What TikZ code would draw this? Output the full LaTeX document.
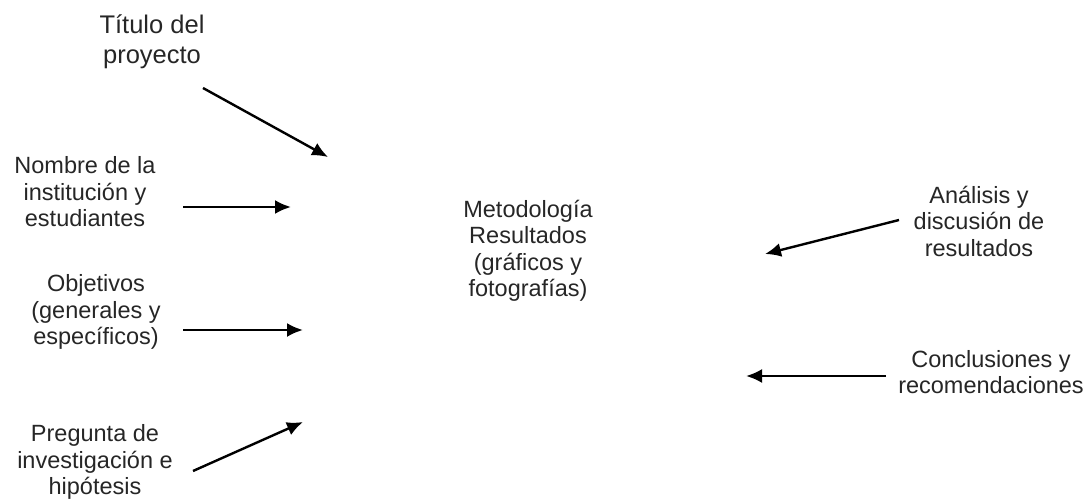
\documentclass[tikz,border=0pt]{standalone}
\usepackage{fontspec}
\setmainfont{Liberation Sans}
\usetikzlibrary{arrows.meta}
\begin{document}
\begin{tikzpicture}[x=1pt,y=-1pt,
  lbl/.style={align=center,inner sep=0pt,text=black!85,font=\fontsize{23.5}{26.5}\selectfont},
  ttl/.style={align=center,inner sep=0pt,text=black!85,font=\fontsize{25.5}{30}\selectfont},
  arr/.style={line width=2.4pt,-{Latex[length=16pt,width=14pt]}}]
\useasboundingbox (0,0) rectangle (1086,500);
\node[ttl] (titulo) at (152,42) {Título del\\proyecto};
\node[lbl] (nombre) at (85,192) {Nombre de la\\institución y\\estudiantes};
\node[lbl] (objetivos) at (96,312) {Objetivos\\(generales y\\específicos)};
\node[lbl] (pregunta) at (95,462) {Pregunta de\\investigación e\\hipótesis};
\node[lbl] (centro) at (528,251) {Metodología\\Resultados\\(gráficos y\\fotografías)};
\node[lbl] (analisis) at (979,221) {Análisis y\\discusión de\\resultados};
\node[lbl] (conclu) at (991,372) {Conclusiones y\\recomendaciones};
\coordinate (t1) at (203,88);  \coordinate (t2) at (328,157);
\coordinate (n1) at (183,207); \coordinate (n2) at (291,207);
\coordinate (o1) at (183,330); \coordinate (o2) at (303,330);
\coordinate (p1) at (193,471); \coordinate (p2) at (303,422);
\coordinate (a1) at (899,220); \coordinate (a2) at (765,254);
\coordinate (c1) at (886,376); \coordinate (c2) at (746,376);
\draw[arr] (t1) -- (t2);
\draw[arr] (n1) -- (n2);
\draw[arr] (o1) -- (o2);
\draw[arr] (p1) -- (p2);
\draw[arr] (a1) -- (a2);
\draw[arr] (c1) -- (c2);
\end{tikzpicture}
\end{document}
